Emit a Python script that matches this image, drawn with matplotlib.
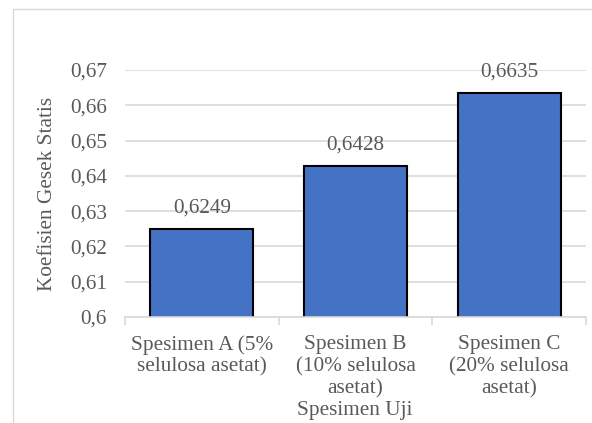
import matplotlib.pyplot as plt
from matplotlib.patches import Rectangle
from matplotlib.ticker import FixedLocator, FuncFormatter

categories = ["Spesimen A (5%\nselulosa asetat)",
              "Spesimen B\n(10% selulosa\nasetat)",
              "Spesimen C\n(20% selulosa\nasetat)"]
values = [0.6249, 0.6428, 0.6635]
y_ticks = [0.6, 0.61, 0.62, 0.63, 0.64, 0.65, 0.66, 0.67]

TEXT = "#595959"
GRID = "#d9d9d9"
BAR = "#4472c4"

plt.rcParams["font.family"] = ["Liberation Serif", "DejaVu Serif"]
plt.rcParams["font.size"] = 15.3

W, H = 592, 423
fig = plt.figure(figsize=(W / 100, H / 100), dpi=100)

# outer chart border (chart is cropped at right/bottom)
fig.patches.append(Rectangle((13 / W, -0.1), 1.2, 1 - 9 / H + 0.1, transform=fig.transFigure,
                             fill=False, edgecolor=GRID, linewidth=1))

ax = fig.add_axes([125 / W, 1 - 317 / H, (586 - 125) / W, (317 - 70) / H])
x = range(len(categories))
ax.bar(x, values, width=0.67, color=BAR, edgecolor="black", linewidth=1.5, zorder=3)

for xi, v in zip(x, values):
  ax.annotate(f"{v:.4f}".replace(".", ","), (xi, v), xytext=(0, 15), textcoords="offset points",
              ha="center", va="center", color=TEXT)

ax.set_xlim(-0.5, 2.5)
ax.set_ylim(0.6, 0.67)
ax.set_yticks(y_ticks)
ax.yaxis.set_major_formatter(FuncFormatter(lambda v, p: f"{v:g}".replace(".", ",")))
ax.tick_params(axis="y", length=0, pad=13, colors=TEXT)
ax.yaxis.grid(True, color=GRID, linewidth=1.2, zorder=0)

ax.set_xticks(list(x))
ax.set_xticklabels(categories, linespacing=1.2)
ax.xaxis.set_minor_locator(FixedLocator([-0.5, 0.5, 1.5, 2.5]))
ax.tick_params(axis="x", which="major", length=0, pad=13, colors=TEXT)
ax.tick_params(axis="x", which="minor", length=6, width=1.2, color=GRID)

for s in ["top", "right", "left"]:
  ax.spines[s].set_visible(False)
ax.spines["bottom"].set_color(GRID)
ax.spines["bottom"].set_linewidth(1.2)
ax.spines["bottom"].set_zorder(4)

ax.set_ylabel("Koefisien Gesek Statis", color=TEXT)
ax.yaxis.set_label_coords(-68 / (586 - 125), 0.5)
fig.text(355 / W, 1 - 410 / H, "Spesimen Uji", ha="center", va="center", color=TEXT)

fig.savefig("out.png", dpi=100)
